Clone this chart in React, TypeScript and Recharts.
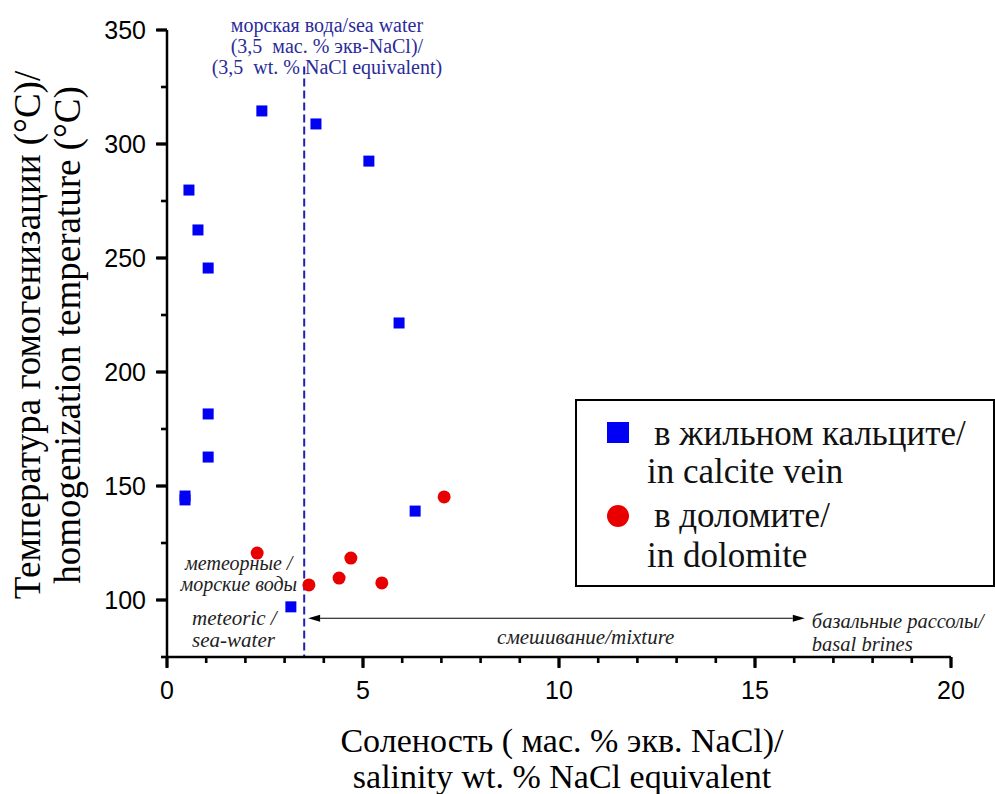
import {
  ScatterChart,
  Scatter,
  XAxis,
  YAxis,
  ReferenceLine,
  ReferenceDot,
  Legend,
} from 'recharts';

// Salinity (wt. % NaCl eq.) vs homogenization temperature (°C)
const calciteX = [2.42, 3.8, 5.15, 0.56, 0.79, 1.05, 5.92, 1.05, 1.05, 0.46, 0.46, 6.33, 3.16];
const calciteY = [314.5, 308.8, 292.5, 279.8, 262.3, 245.6, 221.5, 181.6, 162.7, 145.6, 143.9, 139, 97];
const dolomiteX = [2.3, 4.69, 4.39, 3.62, 5.48, 7.07];
const dolomiteY = [120.6, 118.4, 109.6, 106.6, 107.5, 145.2];

const xDomain = [0, 20];
const yDomain = [75, 350];
const xMajor = [0, 5, 10, 15, 20];
const xMinor = [1, 2, 3, 4, 6, 7, 8, 9, 11, 12, 13, 14, 16, 17, 18, 19];
const yMajor = [100, 150, 200, 250, 300, 350];
const yMinor = [75, 125, 175, 225, 275, 325];

const seaWater = 3.5;
const mixingArrow = { from: 3.6, to: 16.27, at: 92 };

const calcite = calciteX.map((x, i) => ({ x, y: calciteY[i] }));
const dolomite = dolomiteX.map((x, i) => ({ x, y: dolomiteY[i] }));

const SERIF = '"Liberation Serif", "Times New Roman", serif';
const SANS = '"Liberation Sans", Arial, sans-serif';

const XTickLabel = ({ x, y, payload }: any) => (
  <text x={x} y={y + 23} textAnchor="middle" dominantBaseline="central" fontFamily={SANS} fontSize={25} fill="#000">
    {payload.value}
  </text>
);

const YTickLabel = ({ x, y, payload }: any) => (
  <text x={x - 11} y={y} textAnchor="end" dominantBaseline="central" fontFamily={SANS} fontSize={25} fill="#000">
    {payload.value}
  </text>
);

// axis title plus major/minor tick marks, laid out on the axis box
const XTitle = ({ viewBox }: any) => {
  const { x, y, width } = viewBox;
  const px = (v: number) => x + ((v - xDomain[0]) / (xDomain[1] - xDomain[0])) * width;
  const cx = x + width / 2 + 3;
  return (
    <g>
      {xMajor.map((v) => (
        <rect key={`M${v}`} x={px(v) - 1.5} y={y} width={3} height={11} fill="#000" />
      ))}
      {xMinor.map((v) => (
        <rect key={`m${v}`} x={px(v) - 1.3} y={y} width={2.6} height={6} fill="#000" />
      ))}
      <text textAnchor="middle" fontFamily={SERIF} fontSize={34} fill="#000">
        <tspan x={cx} y={y + 95}>Соленость ( мас. % экв. NaCl)/</tspan>
        <tspan x={cx} y={y + 131}>salinity wt. % NaCl equivalent</tspan>
      </text>
    </g>
  );
};

const YTitle = ({ viewBox }: any) => {
  const { x, y, width, height } = viewBox;
  const right = x + width;
  const py = (v: number) => y + height - ((v - yDomain[0]) / (yDomain[1] - yDomain[0])) * height;
  const cy = 335;
  return (
    <g>
      {yMajor.map((v) => (
        <rect key={`M${v}`} x={right - 11} y={py(v) - 1.5} width={11} height={3} fill="#000" />
      ))}
      {yMinor.map((v) => (
        <rect key={`m${v}`} x={right - 6} y={py(v) - 1.3} width={6} height={2.6} fill="#000" />
      ))}
      <g transform={`rotate(-90 0 ${cy})`}>
        <text textAnchor="middle" fontFamily={SERIF} fontSize={37} fill="#000">
          <tspan x={0} y={cy + 40}>Температура гомогенизации (°C)/</tspan>
          <tspan x={0} y={cy + 80}>homogenization temperature  (°C)</tspan>
        </text>
      </g>
    </g>
  );
};

// multi-line annotation anchored at a data point
const note =
  (lines: string[], opts: { anchor?: string; color?: string; size?: number; italic?: boolean; step?: number }) =>
  ({ viewBox }: any) => {
    const { anchor = 'middle', color = '#222', size = 21, italic = true, step = 21 } = opts;
    return (
      <text
        textAnchor={anchor}
        dominantBaseline="central"
        fontFamily={SERIF}
        fontSize={size}
        fontStyle={italic ? 'italic' : 'normal'}
        fill={color}
      >
        {lines.map((l, i) => (
          <tspan key={i} x={viewBox.x} y={viewBox.y + i * step} style={{ whiteSpace: 'pre' }}>
            {l}
          </tspan>
        ))}
      </text>
    );
  };

const ArrowShape = (props: any) => {
  const { x1, y1, x2, y2 } = props;
  const h = 12;
  const w = 3.5;
  return (
    <g>
      <line x1={x1 + h} y1={y1} x2={x2 - h} y2={y2} stroke="#000" strokeWidth={1.2} />
      <polygon points={`${x1},${y1} ${x1 + h},${y1 - w} ${x1 + h},${y1 + w}`} fill="#000" />
      <polygon points={`${x2},${y2} ${x2 - h},${y2 - w} ${x2 - h},${y2 + w}`} fill="#000" />
    </g>
  );
};

const Square = ({ cx, cy }: any) => <rect x={cx - 5.5} y={cy - 5.5} width={11} height={11} fill="#0000f5" />;
const Round = ({ cx, cy }: any) => <circle cx={cx} cy={cy} r={6.5} fill="#e80000" />;

const LegendBox = () => {
  const txt = {
    position: 'absolute' as const,
    fontFamily: SERIF,
    fontSize: 35,
    lineHeight: '40px',
    color: '#111',
    whiteSpace: 'nowrap' as const,
  };
  return (
    <div style={{ position: 'relative', width: '100%', height: '100%' }}>
      <div style={{ position: 'absolute', left: 30, top: 21, width: 22, height: 21, background: '#0000f5' }} />
      <div style={{ ...txt, left: 77, top: 13 }}>в жильном кальците/</div>
      <div style={{ ...txt, left: 70, top: 51 }}>in calcite vein</div>
      <div style={{ position: 'absolute', left: 30, top: 104, width: 22, height: 22, borderRadius: '50%', background: '#e80000' }} />
      <div style={{ ...txt, left: 77, top: 95 }}>в доломите/</div>
      <div style={{ ...txt, left: 70, top: 135 }}>in dolomite</div>
    </div>
  );
};

export default function App() {
  return (
    <div style={{ position: 'absolute', left: 0, top: 0, width: 995, height: 794, background: '#fff' }}>
      <ScatterChart width={995} height={794} margin={{ top: 30, right: 44, bottom: 97, left: 0 }}>
        <XAxis
          type="number"
          dataKey="x"
          domain={xDomain}
          ticks={xMajor}
          interval={0}
          tick={<XTickLabel />}
          tickLine={{ stroke: '#000', strokeWidth: 2.6 }}
          tickSize={10}
          tickMargin={0}
          height={40}
          axisLine={{ stroke: '#000', strokeWidth: 2.5 }}
          label={{ content: <XTitle /> }}
        />
        <YAxis
          type="number"
          dataKey="y"
          domain={yDomain}
          ticks={yMajor}
          interval={0}
          tick={<YTickLabel />}
          tickLine={{ stroke: '#000', strokeWidth: 2.6 }}
          tickSize={10}
          tickMargin={0}
          width={167}
          axisLine={{ stroke: '#000', strokeWidth: 2.5 }}
          label={{ content: <YTitle /> }}
        />
        <ReferenceLine
          segment={[
            { x: seaWater, y: 334 },
            { x: seaWater, y: 75 },
          ]}
          stroke="#1f1fb4"
          strokeWidth={2}
          strokeDasharray="8 4"
          ifOverflow="visible"
        />
        <ReferenceLine
          segment={[
            { x: mixingArrow.from, y: mixingArrow.at },
            { x: mixingArrow.to, y: mixingArrow.at },
          ]}
          shape={<ArrowShape />}
        />
        <ReferenceDot
          x={4.08}
          y={352.3}
          r={0}
          ifOverflow="visible"
          label={{
            content: note(['морская вода/sea water', '(3,5  мас. % экв-NaCl)/', '(3,5  wt. % NaCl equivalent)'], {
              color: '#2b2b9a',
              size: 20,
              italic: false,
              step: 21,
            }),
          }}
        />
        <ReferenceDot x={1.83} y={116.4} r={0} label={{ content: note(['метеорные /', 'морские воды'], { size: 20 }) }} />
        <ReferenceDot x={0.64} y={92.1} r={0} label={{ content: note(['meteoric /', 'sea-water'], { anchor: 'start', step: 22 }) }} />
        <ReferenceDot x={8.42} y={83.8} r={0} label={{ content: note(['смешивание/mixture'], { anchor: 'start' }) }} />
        <ReferenceDot
          x={16.45}
          y={90.6}
          r={0}
          label={{ content: note(['базальные рассолы/', 'basal brines'], { anchor: 'start', size: 20.5, step: 22.5 }) }}
        />
        <Scatter name="calcite" data={calcite} shape={<Square />} isAnimationActive={false} />
        <Scatter name="dolomite" data={dolomite} shape={<Round />} isAnimationActive={false} />
        <Legend
          layout="horizontal"
          verticalAlign="middle"
          align="center"
          content={<LegendBox />}
          wrapperStyle={{
            left: 575,
            top: 399,
            width: 420,
            height: 188,
            border: '2px solid #000',
            boxSizing: 'border-box',
            background: '#fff',
          }}
        />
      </ScatterChart>
    </div>
  );
}
